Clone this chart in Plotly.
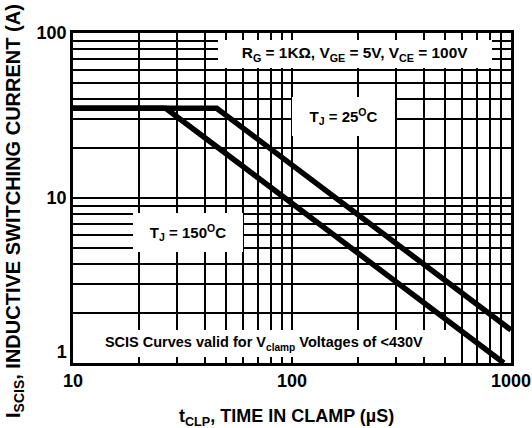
import plotly.graph_objects as go

# Data
t_25 = [10, 45.3, 1000]
i_25 = [35, 35, 1.585]
t_150 = [10, 26.5, 927]
i_150 = [35, 35, 1.0]

x_ticks = [10, 100, 1000]
x_ticklabels = ["10", "100", "1000"]
y_ticks = [1, 10, 100]
y_ticklabels = ["1<br>\u00a0", "10", "100"]
x_minor = [20, 30, 40, 50, 60, 70, 80, 90, 200, 300, 400, 500, 600, 700, 800, 900]
y_minor = [2, 3, 4, 5, 6, 7, 8, 9, 20, 30, 40, 50, 60, 70, 80, 90]

FONT = "Liberation Sans, Arial, sans-serif"
L, R, T, B = 73, 511, 33, 363
W, H = 532, 428


def px(xp):
    return (xp - L) / (R - L)


def py(yp):
    return (B - yp) / (B - T)


fig = go.Figure()
fig.add_trace(go.Scatter(x=t_25, y=i_25, mode="lines",
                         line=dict(color="black", width=5.5), showlegend=False))
fig.add_trace(go.Scatter(x=t_150, y=i_150, mode="lines",
                         line=dict(color="black", width=5.5), showlegend=False))

axis_common = dict(
    type="log", automargin=False,
    showgrid=True, gridcolor="black", gridwidth=1.5,
    showline=True, linecolor="black", linewidth=2.5, mirror=True,
    ticks="", zeroline=False,
    tickfont=dict(family=FONT, size=18, color="black", weight="bold"),
)

fig.update_xaxes(range=[1, 3], tickvals=x_ticks, ticktext=x_ticklabels,
                 minor=dict(tickvals=x_minor, showgrid=True, gridcolor="black",
                            gridwidth=1.5, ticks=""),
                 **axis_common)
fig.update_yaxes(range=[0, 2], tickvals=y_ticks, ticktext=y_ticklabels,
                 minor=dict(tickvals=y_minor, showgrid=True, gridcolor="black",
                            gridwidth=1.5, ticks=""),
                 **axis_common)

boxes = [
    ("<b>R<sub>G</sub> = 1KΩ, V<sub>GE</sub> = 5V, V<sub>CE</sub> = 100V</b>", 218, 492, 40, 68, 15.4),
    ("<b>T<sub>J</sub> = 25<sup>O</sup>C</b>", 292, 395, 97, 136, 15),
    ("<b>T<sub>J</sub> = 150<sup>O</sup>C</b>", 133, 243, 213, 252, 15),
    ("<b>SCIS Curves valid for V<sub>clamp</sub> Voltages of &lt;430V</b>", 75, 453, 330, 357, 14.5),
]
for text, x0, x1, y0, y1, fs in boxes:
    fig.add_annotation(
        text=text, xref="paper", yref="paper",
        x=px((x0 + x1) / 2), y=py((y0 + y1) / 2),
        xanchor="center", yanchor="middle",
        width=x1 - x0, height=y1 - y0, borderpad=0, borderwidth=0,
        bgcolor="white", showarrow=False,
        font=dict(family=FONT, size=fs, color="black"),
    )

# Axis titles
fig.add_annotation(
    text="<b>t<sub>CLP</sub>, TIME IN CLAMP (µS)</b>",
    xref="paper", yref="paper", x=px(286), y=py(417),
    xanchor="center", yanchor="middle", showarrow=False,
    font=dict(family=FONT, size=18, color="black"),
)
fig.add_annotation(
    text="<b>I<sub>SCIS</sub>, INDUCTIVE SWITCHING CURRENT (A)</b>",
    xref="paper", yref="paper", x=px(15), y=py(211),
    xanchor="center", yanchor="middle", showarrow=False, textangle=-90,
    font=dict(family=FONT, size=20, color="black"),
)

fig.update_layout(
    width=W, height=H,
    margin=dict(l=L, r=W - R, t=T, b=H - B, pad=0, autoexpand=False),
    paper_bgcolor="white", plot_bgcolor="white",
    showlegend=False,
)

fig.write_html(
    "out.html",
    config={"responsive": False, "displayModeBar": False},
    post_script="document.body.style.margin='0px';document.body.style.overflow='hidden';",
)
